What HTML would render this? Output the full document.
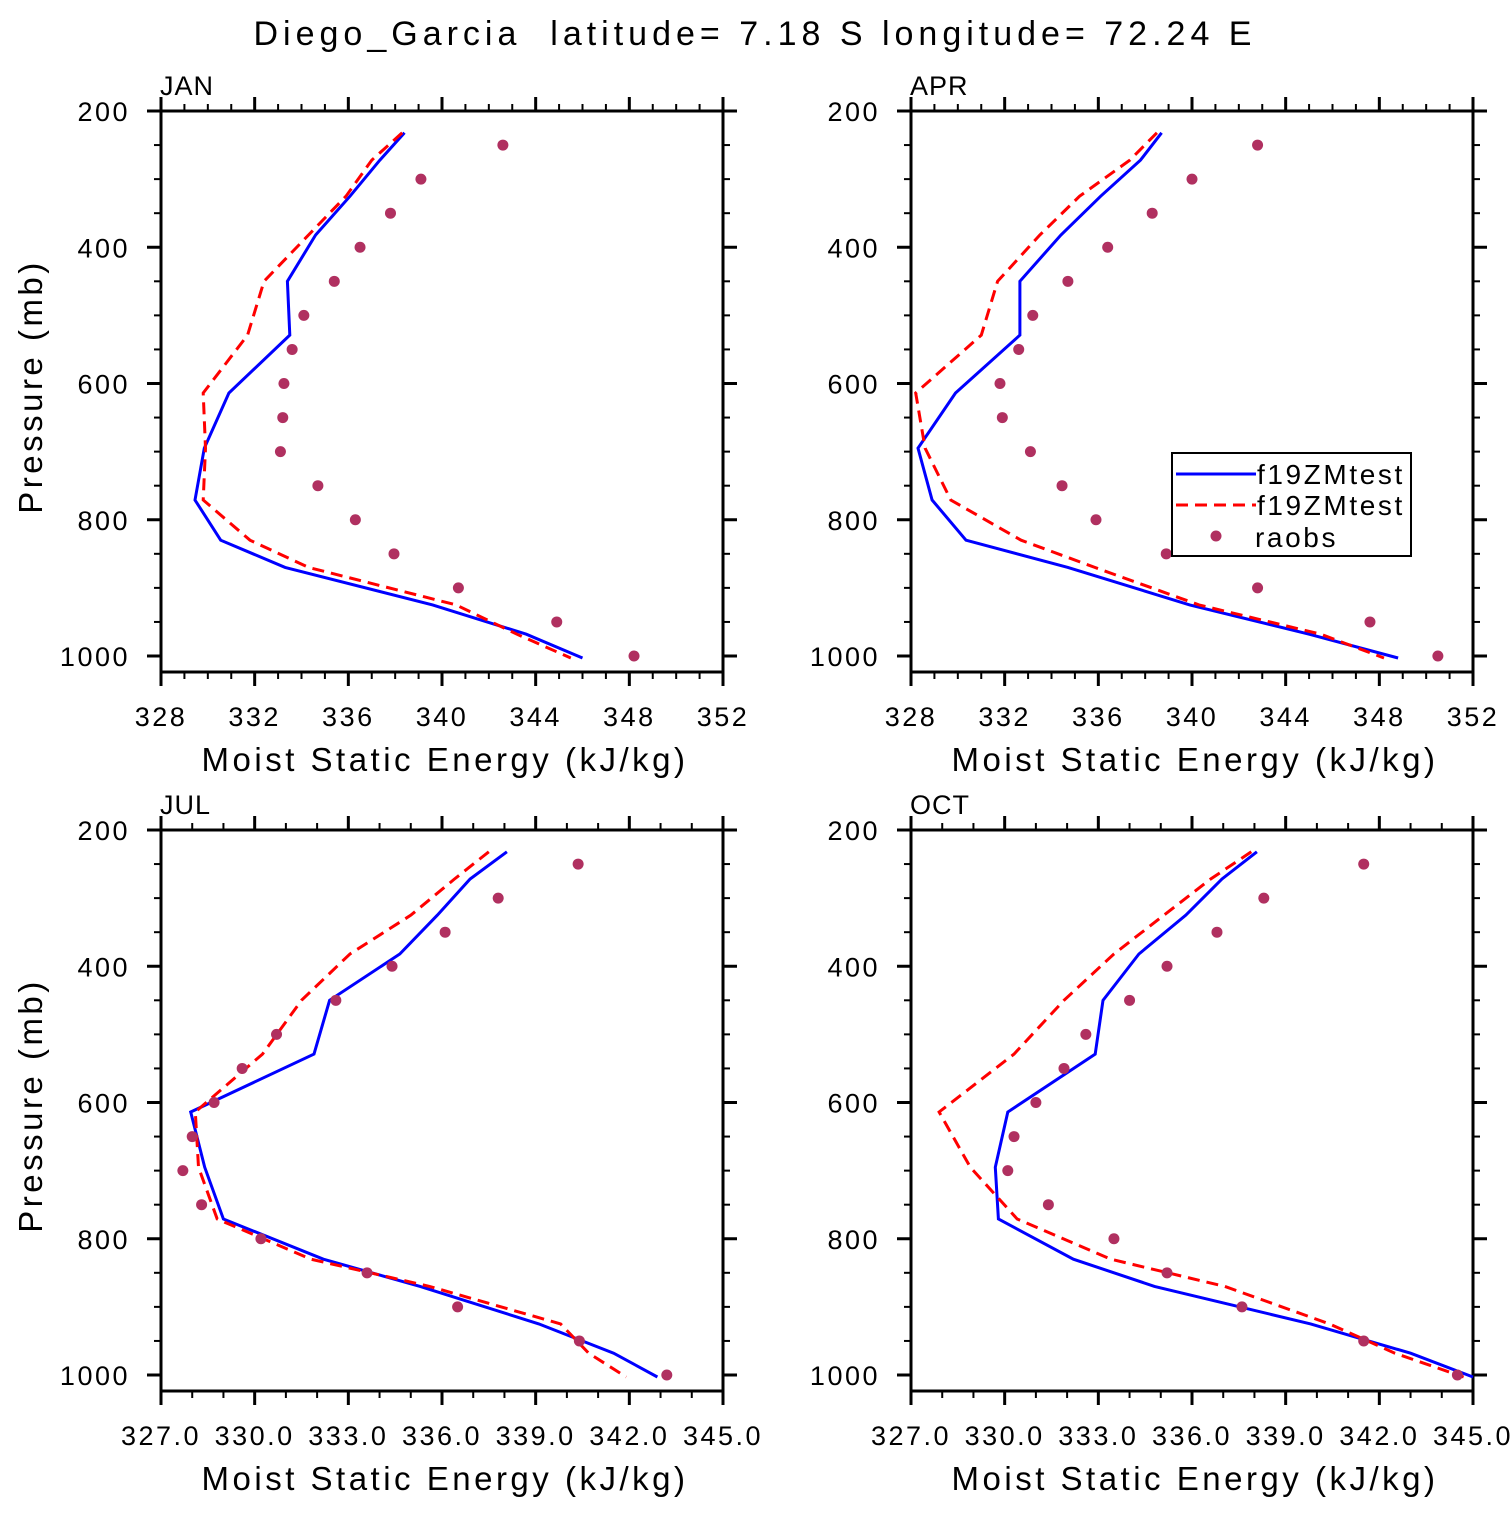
<!DOCTYPE html>
<html><head><meta charset="utf-8"><style>
body{margin:0;background:#fff}
svg text{font-family:"Liberation Sans",sans-serif;fill:#000;white-space:pre}
</style></head><body>
<svg id="c" width="1510" height="1510" viewBox="0 0 1510 1510" xmlns="http://www.w3.org/2000/svg">
<text x="755" y="45" font-size="34" text-anchor="middle" style="letter-spacing:5px">Diego_Garcia  latitude= 7.18 S longitude= 72.24 E</text>
</svg>
<script>
const levels=[232,272,325,382,450,529,614,695,771,830,870,925,968,1003];
const obsLevels=[250,300,350,400,450,500,550,600,650,700,750,800,850,900,950,1000];
const janBlue=[338.4,337.35,336.07,334.6,333.4,333.5,330.9,329.85,329.45,330.55,333.3,339.6,343.6,346.0];
const janRed=[338.3,337.0,335.9,334.3,332.4,331.7,329.8,329.9,329.8,331.8,334.3,340.6,343.2,345.5];
const janObs=[342.6,339.1,337.8,336.5,335.4,334.1,333.6,333.25,333.2,333.1,334.7,336.3,337.95,340.7,344.9,348.2];
const aprBlue=[338.7,337.8,336.1,334.4,332.65,332.65,329.9,328.3,328.9,330.35,334.7,339.9,345.0,348.8];
const aprRed=[338.5,337.35,335.2,333.5,331.7,331.0,328.2,328.6,329.7,332.7,335.85,340.3,345.5,348.2];
const aprObs=[342.8,340.0,338.3,336.4,334.7,333.2,332.6,331.8,331.9,333.1,334.45,335.9,338.9,342.8,347.6,350.5];
const julBlue=[338.08,336.9,335.85,334.65,332.4,331.9,327.95,328.4,329.0,332.2,335.3,339.1,341.5,342.9];
const julRed=[337.5,336.4,335.0,333.05,331.5,330.25,328.1,328.2,328.8,331.8,335.6,339.8,340.7,341.9];
const julObs=[340.36,337.8,336.1,334.4,332.6,330.7,329.6,328.7,328.0,327.7,328.3,330.2,333.6,336.5,340.4,343.2];
const octBlue=[338.08,336.96,335.8,334.3,333.15,332.9,330.1,329.7,329.8,332.2,334.8,339.8,343.0,345.0];
const octRed=[337.9,336.6,335.1,333.5,331.9,330.3,327.9,328.9,330.4,333.4,337.05,340.4,342.5,344.7];
const octObs=[341.5,338.3,336.8,335.2,334.0,332.6,331.9,331.0,330.3,330.1,331.4,333.5,335.2,337.6,341.5,344.5];
const yTicks=[200,400,600,800,1000];

const svg=document.getElementById('c');
const NS='http://www.w3.org/2000/svg';
function mk(tag,attrs,parent){const e=document.createElementNS(NS,tag);for(const k in attrs)e.setAttribute(k,attrs[k]);(parent||svg).appendChild(e);return e;}

const panels=[
 {name:'jan',label:'JAN',x0:161,y0:111,xmin:328,xmax:352,major:4,minor:1,dec:0,b:janBlue,r:janRed,o:janObs},
 {name:'apr',label:'APR',x0:911,y0:111,xmin:328,xmax:352,major:4,minor:1,dec:0,b:aprBlue,r:aprRed,o:aprObs,legend:true},
 {name:'jul',label:'JUL',x0:161,y0:830,xmin:327,xmax:345,major:3,minor:1,dec:1,b:julBlue,r:julRed,o:julObs},
 {name:'oct',label:'OCT',x0:911,y0:830,xmin:327,xmax:345,major:3,minor:1,dec:1,b:octBlue,r:octRed,o:octObs}
];
const W=562,H=561;
panels.forEach(p=>{
 const g=mk('g',{});
 
 
 const X=v=>p.x0+(v-p.xmin)/(p.xmax-p.xmin)*W;
 const Y=pr=>p.y0+(pr-200)*0.68125;
 const ax=mk('g',{},g);
 
 
 mk('rect',{x:p.x0,y:p.y0,width:W,height:H,fill:'none',stroke:'#000','stroke-width':3},ax);
 for(let pr=250;pr<=1000;pr+=50){
  const y=Y(pr);const maj=pr%200===0;const L=maj?14:7;
  mk('line',{x1:p.x0-L,x2:p.x0,y1:y,y2:y,stroke:'#000','stroke-width':maj?3:2},ax);
  mk('line',{x1:p.x0+W,x2:p.x0+W+L,y1:y,y2:y,stroke:'#000','stroke-width':maj?3:2},ax);
 }
 mk('line',{x1:p.x0-14,x2:p.x0,y1:p.y0,y2:p.y0,stroke:'#000','stroke-width':3},ax);
 mk('line',{x1:p.x0+W,x2:p.x0+W+14,y1:p.y0,y2:p.y0,stroke:'#000','stroke-width':3},ax);
 yTicks.forEach(t=>{const tx=mk('text',{x:p.x0-31,y:Y(t)+10,'font-size':27,'text-anchor':'end',style:'letter-spacing:2.5px'},ax);tx.textContent=t;
  });
 for(let v=p.xmin;v<=p.xmax+1e-6;v+=p.minor){
  const x=X(v);const maj=Math.abs((v-p.xmin)%p.major)<1e-6;const L=maj?14:7;
  mk('line',{x1:x,x2:x,y1:p.y0-L,y2:p.y0,stroke:'#000','stroke-width':maj?3:2},ax);
  mk('line',{x1:x,x2:x,y1:p.y0+H,y2:p.y0+H+L,stroke:'#000','stroke-width':maj?3:2},ax);
  if(maj){const tx=mk('text',{x:x,y:p.y0+H+54,'font-size':27,'text-anchor':'middle',style:'letter-spacing:2.5px'},ax);tx.textContent=v.toFixed(p.dec);
   }
 }
 const lb=mk('text',{x:p.x0-1,y:p.y0-16,'font-size':27,style:'letter-spacing:1px'},g);lb.textContent=p.label;
 
 const xt=mk('text',{x:p.x0+W/2+3,y:p.y0+H+99,'font-size':33,'text-anchor':'middle',style:'letter-spacing:3.5px'},g);xt.textContent='Moist Static Energy (kJ/kg)';
 
 if(p.x0<500){const yt=mk('text',{x:0,y:0,'font-size':33,'text-anchor':'middle',transform:`translate(42,${p.y0+H/2-5}) rotate(-90)`,style:'letter-spacing:3.5px'},g);yt.textContent='Pressure (mb)';
  }
 const pts=a=>a.map((v,i)=>X(v).toFixed(1)+','+Y(levels[i]).toFixed(1)).join(' ');
 const bl=mk('polyline',{points:pts(p.b),fill:'none',stroke:'#0000ff','stroke-width':3},g);
 
 const rl=mk('polyline',{points:pts(p.r),fill:'none',stroke:'#ff0000','stroke-width':3,'stroke-dasharray':'12,7'},g);
 
 p.o.forEach((v,i)=>{const c=mk('circle',{cx:X(v),cy:Y(obsLevels[i]),r:5.5,fill:'#b03060'},g);
  });
 if(p.legend){
  const lg=mk('g',{},g);
  mk('rect',{x:1172,y:453,width:239,height:103,fill:'#fff',stroke:'#000','stroke-width':2},lg);
  mk('line',{x1:1176,x2:1256,y1:474,y2:474,stroke:'#0000ff','stroke-width':3},lg);
  mk('line',{x1:1176,x2:1256,y1:505,y2:505,stroke:'#ff0000','stroke-width':3,'stroke-dasharray':'12,7'},lg);
  mk('circle',{cx:1216,cy:536,r:5.5,fill:'#b03060'},lg);
  [['f19ZMtest',484],['f19ZMtest',515],['raobs',547]].forEach(([t,y],i)=>{const tx=mk('text',{x:i==2?1255:1257,y:y,'font-size':28,style:'letter-spacing:2.6px'},lg);tx.textContent=t;
   });
 }
});
</script>
</body></html>
